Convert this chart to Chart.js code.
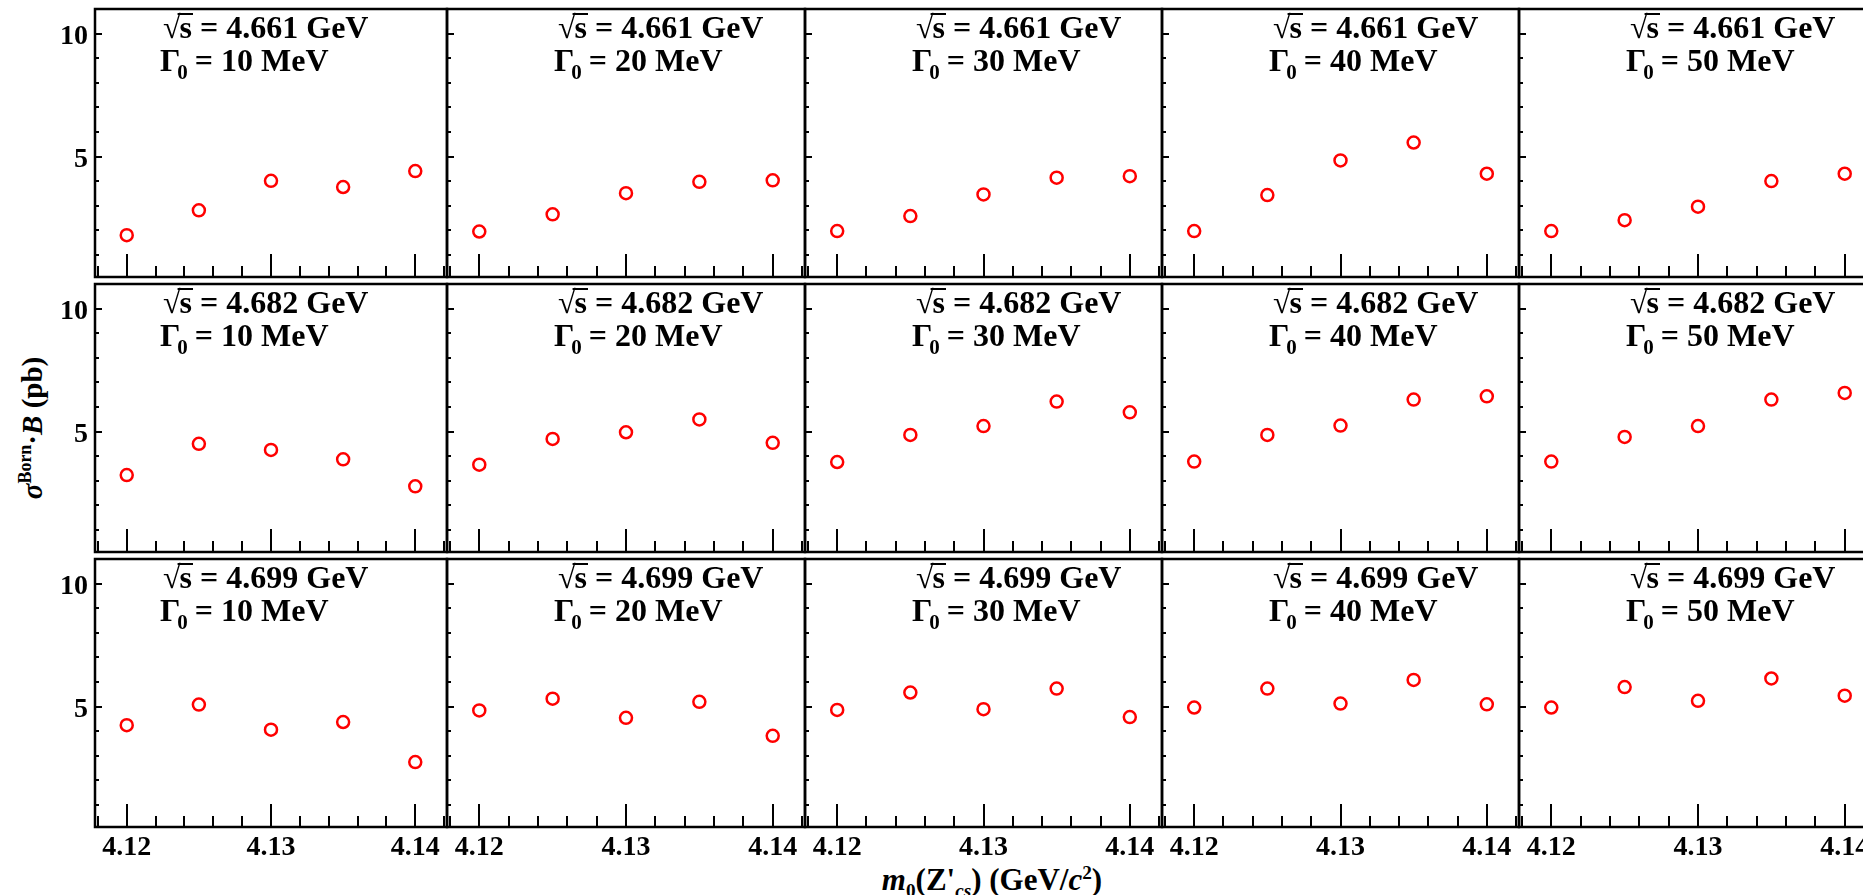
<!DOCTYPE html>
<html>
<head>
<meta charset="utf-8">
<script src="https://cdn.jsdelivr.net/npm/chart.js@4/dist/chart.umd.min.js"></script>
<style>
html, body { margin: 0; padding: 0; background: #fff; overflow: hidden; width: 1863px; height: 895px; }
#wrap { position: relative; width: 1863px; height: 895px; }
canvas { position: absolute; }
.axtitle { position: absolute; font: bold 32px 'Liberation Serif', 'DejaVu Serif', serif; color: #000; white-space: nowrap; line-height: 1; }
.axtitle sub, .axtitle sup { font-size: 0.62em; line-height: 0; }
#ytitle { left: 32px; top: 428px; font-size: 29px; transform: translate(-50%, -50%) rotate(-90deg); }
#xtitle { left: 992px; top: 864px; font-size: 31px; transform: translateX(-50%); }
</style>
</head>
<body>
<div id="wrap">
  <div class="axtitle" id="ytitle"><i>σ</i><sup>Born</sup>·<i>B</i> (pb)</div>
  <div class="axtitle" id="xtitle"><i>m</i><sub>0</sub>(Z'<sub><i>cs</i></sub>) (GeV/<i>c</i><sup>2</sup>)</div>
</div>
<script>
// m0(Z'cs) values (GeV/c^2)
const masses = [4.12, 4.125, 4.13, 4.135, 4.14];
const energies = ['4.661', '4.682', '4.699'];
const gammas = ['10', '20', '30', '40', '50'];
const xTickValues = [4.12, 4.13, 4.14];
const xTickLabels = ['4.12', '4.13', '4.14'];
const yTickValues = [5, 10];
const yTickLabels = ['5', '10'];

// sigma*B (pb), one row per Gamma0 = 10..50 MeV
const sigma4661 = [
    [1.80, 2.81, 4.01, 3.76, 4.41],
    [1.95, 2.65, 3.51, 3.97, 4.03],
    [1.97, 2.58, 3.46, 4.14, 4.20],
    [1.97, 3.43, 4.84, 5.57, 4.30],
    [1.97, 2.41, 2.96, 4.00, 4.30]
];
const sigma4682 = [
    [3.23, 4.50, 4.25, 3.87, 2.77],
    [3.65, 4.70, 4.97, 5.49, 4.54],
    [3.76, 4.86, 5.22, 6.22, 5.78],
    [3.78, 4.86, 5.24, 6.30, 6.43],
    [3.78, 4.78, 5.22, 6.30, 6.57]
];
const sigma4699 = [
    [4.24, 5.08, 4.06, 4.37, 2.74],
    [4.84, 5.32, 4.54, 5.19, 3.81],
    [4.86, 5.57, 4.89, 5.73, 4.57],
    [4.96, 5.73, 5.12, 6.08, 5.09],
    [4.96, 5.79, 5.23, 6.14, 5.44]
];
const sigmaRows = [sigma4661, sigma4682, sigma4699];

// panel geometry
const colLeft = [95, 447, 805, 1162, 1519];
const colWidth = [352, 358, 357, 357, 358];
const rowTop = [9, 284, 559];
const rowHeight = 268;

const FONT = "'Liberation Serif', 'DejaVu Serif', serif";

const framePlugin = {
    id: 'frame',
    afterDraw(chart, args, opts) {
        const ctx = chart.ctx, a = chart.chartArea;
        const xs = chart.scales.x, ys = chart.scales.y;
        ctx.save();
        ctx.strokeStyle = '#000';
        ctx.fillStyle = '#000';

        // x ticks, pointing inward from the bottom
        ctx.lineWidth = 2;
        ctx.beginPath();
        for (let k = 0; k <= 12; k++) {
            const v = 4.118 + 0.002 * k;
            const px = Math.round(xs.getPixelForValue(v));
            const len = (k % 5 === 1) ? 23 : 11;
            ctx.moveTo(px, a.bottom);
            ctx.lineTo(px, a.bottom - len);
        }
        // y ticks, pointing inward from the left
        for (let v = 1; v <= 10; v++) {
            const py = Math.round(ys.getPixelForValue(v));
            const len = (v % 5 === 0) ? 7 : 4;
            ctx.moveTo(a.left, py);
            ctx.lineTo(a.left + len, py);
        }
        ctx.stroke();

        ctx.lineWidth = 2.5;
        ctx.strokeRect(a.left, a.top, a.right - a.left, a.bottom - a.top);

        // tick labels
        ctx.font = 'bold 28px ' + FONT;
        if (opts.col === 0) {
            ctx.textAlign = 'right';
            ctx.textBaseline = 'alphabetic';
            yTickValues.forEach((v, i) => {
                ctx.fillText(yTickLabels[i], a.left - 7, ys.getPixelForValue(v) + 10);
            });
        }
        if (opts.row === 2) {
            ctx.textAlign = 'center';
            ctx.textBaseline = 'alphabetic';
            xTickValues.forEach((v, i) => {
                ctx.fillText(xTickLabels[i], xs.getPixelForValue(v), a.bottom + 28);
            });
        }

        // panel caption
        ctx.textAlign = 'left';
        ctx.textBaseline = 'alphabetic';
        const off1 = opts.col === 0 ? 68 : 111;
        const off2 = opts.col === 0 ? 65 : 107;
        let x = a.left + off1, y = a.top + 29;
        ctx.font = 'bold 32px ' + FONT;
        const wr = ctx.measureText('√').width;
        ctx.fillText('√', x, y);
        const ws = ctx.measureText('s').width;
        ctx.fillText('s', x + wr - 1, y);
        ctx.lineWidth = 2;
        ctx.beginPath();
        ctx.moveTo(x + wr - 3, y - 24);
        ctx.lineTo(x + wr + ws, y - 24);
        ctx.stroke();
        ctx.fillText(' = ' + energies[opts.row] + ' GeV', x + wr + ws - 1, y);

        x = a.left + off2; y = a.top + 62;
        ctx.fillText('Γ', x, y);
        const wg = ctx.measureText('Γ').width;
        ctx.font = 'bold 21px ' + FONT;
        ctx.fillText('0', x + wg - 3, y + 8);
        const w0 = ctx.measureText('0').width;
        ctx.font = 'bold 32px ' + FONT;
        ctx.fillText(' = ' + gammas[opts.col] + ' MeV', x + wg + w0 - 4, y);
        ctx.restore();
    }
};

const wrap = document.getElementById('wrap');
for (let r = 0; r < 3; r++) {
    for (let c = 0; c < 5; c++) {
        const padL = c === 0 ? 95 : 10, padR = 10, padT = r === 0 ? 9 : 10, padB = r === 2 ? 40 : 10;
        const cv = document.createElement('canvas');
        cv.width = colWidth[c] + padL + padR;
        cv.height = rowHeight + padT + padB;
        cv.style.left = (colLeft[c] - padL) + 'px';
        cv.style.top = (rowTop[r] - padT) + 'px';
        wrap.appendChild(cv);

        const vals = sigmaRows[r][c];
        new Chart(cv.getContext('2d'), {
            type: 'scatter',
            data: {
                datasets: [{
                    data: masses.map((m, i) => ({ x: m, y: vals[i] })),
                    pointStyle: 'circle',
                    pointRadius: 6,
                    pointHoverRadius: 6,
                    borderWidth: 2.5,
                    borderColor: '#ff0000',
                    backgroundColor: 'rgba(255,255,255,0)'
                }]
            },
            options: {
                responsive: false,
                animation: false,
                events: [],
                layout: { padding: { left: padL, right: padR, top: padT, bottom: padB } },
                plugins: {
                    legend: { display: false },
                    tooltip: { enabled: false },
                    frame: { row: r, col: c }
                },
                scales: {
                    x: { type: 'linear', min: 4.1178, max: 4.1422, display: false },
                    y: { type: 'linear', min: 0.1, max: 11, display: false }
                }
            },
            plugins: [framePlugin]
        });
    }
}
</script>
</body>
</html>
